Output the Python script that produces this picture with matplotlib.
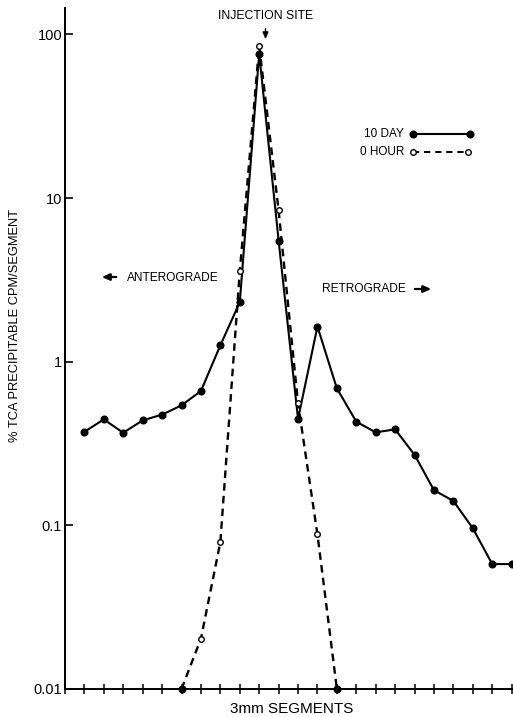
import numpy as np
import matplotlib
matplotlib.use("Agg")
import matplotlib.pyplot as plt
from matplotlib.lines import Line2D

plt.rcParams["font.family"] = ["Liberation Sans", "DejaVu Sans"]

# 3 mm nerve segments (injection site at segment 10)
seg_10day = list(range(1, 24))
pct_10day = [0.373, 0.444, 0.368, 0.438, 0.475, 0.541, 0.662, 1.26, 2.31, 76.0,
             5.5, 0.447, 1.64, 0.687, 0.43, 0.37, 0.386, 0.27, 0.164, 0.141,
             0.096, 0.058, 0.058]

seg_0hour = [6, 7, 8, 9, 10, 11, 12, 13, 14]
pct_0hour = [0.01, 0.0203, 0.079, 3.56, 85.0, 8.4, 0.556, 0.088, 0.01]

ytick_vals = [0.01, 0.1, 1, 10, 100]
ytick_labels = ["0.01", "0.1", "1", "10", "100"]
xtick_vals = list(range(0, 24))

W, H = 513, 717
fig = plt.figure(figsize=(W / 100, H / 100), dpi=100)
ax = fig.add_axes([65 / W, 28 / H, (W - 65) / W, (689 - 8) / H])


def fpos(x, y):
    """Pixel position (from top-left) to figure fraction."""
    return x / W, 1 - y / H


ax.set_yscale("log")
ax.set_ylim(0.01, 145)
ax.set_xlim(0, 23.07)

# 10 day: solid line, filled dots
ax.plot(seg_10day, pct_10day, color="black", lw=1.5, marker="o", ms=4.8,
        mfc="black", mec="black", zorder=3)

# 0 hour: dashed line, open circles
ax.plot(seg_0hour, pct_0hour, color="black", lw=1.7, ls=(0, (3.2, 2.2)),
        marker="o", ms=4.0, mfc="white", mec="black", mew=1.0, zorder=4)
floor = [(s, v) for s, v in zip(seg_0hour, pct_0hour) if v <= 0.01]
ax.plot([s for s, _ in floor], [v for _, v in floor], ls="none", marker="o",
        ms=4.8, mfc="black", mec="black", clip_on=False, zorder=5)

for side in ("top", "right"):
    ax.spines[side].set_visible(False)
for side in ("left", "bottom"):
    ax.spines[side].set_linewidth(1.4)

ax.yaxis.set_major_locator(matplotlib.ticker.FixedLocator(ytick_vals))
ax.yaxis.set_major_formatter(matplotlib.ticker.FixedFormatter(ytick_labels))
ax.yaxis.set_minor_locator(matplotlib.ticker.NullLocator())
ax.tick_params(axis="y", which="major", direction="in", length=5.5, width=1.2,
               pad=2, labelsize=10.5)
ax.set_xticks(xtick_vals)
ax.set_xticklabels([])
ax.tick_params(axis="x", which="major", direction="inout", length=6.5, width=1.1)

fig.text(*fpos(15, 325), "% TCA PRECIPITABLE CPM/SEGMENT", rotation=90,
         ha="center", va="center", fontsize=9.3)
fig.text(*fpos(292, 709), "3mm SEGMENTS", ha="center", va="center",
         fontsize=11)

# annotations
fig.text(*fpos(266, 16), "INJECTION SITE", ha="center", va="center",
         fontsize=8.8)
ax.annotate("", xy=fpos(265.5, 42), xytext=fpos(265.5, 26),
            xycoords="figure fraction", textcoords="figure fraction",
            arrowprops=dict(arrowstyle="-|>,head_length=0.4,head_width=0.17",
                            color="black", lw=1.0))

fig.text(*fpos(127, 278), "ANTEROGRADE", ha="left", va="center", fontsize=8.6)
ax.annotate("", xy=fpos(99, 277), xytext=fpos(119, 277),
            xycoords="figure fraction", textcoords="figure fraction",
            arrowprops=dict(arrowstyle="-|>,head_length=0.45,head_width=0.2",
                            color="black", lw=1.6))
fig.text(*fpos(322, 289), "RETROGRADE", ha="left", va="center", fontsize=8.6)
ax.annotate("", xy=fpos(434, 289), xytext=fpos(412, 289),
            xycoords="figure fraction", textcoords="figure fraction",
            arrowprops=dict(arrowstyle="-|>,head_length=0.45,head_width=0.2",
                            color="black", lw=1.6))

# key
fig.text(*fpos(404, 134), "10 DAY", ha="right", va="center", fontsize=8.5)
fig.text(*fpos(404, 152), "0 HOUR", ha="right", va="center", fontsize=8.5)
x0, y0 = fpos(413, 134)
x1, _ = fpos(470, 134)
fig.add_artist(Line2D([x0, x1], [y0, y0], color="black", lw=1.5, marker="o",
                      ms=4.8, mfc="black", transform=fig.transFigure))
x0, y0 = fpos(413, 152)
x1, _ = fpos(468, 152)
fig.add_artist(Line2D([x0, x1], [y0, y0], color="black", lw=1.4,
                      ls=(0, (3.2, 2.5)), marker="o", ms=4.0, mfc="white",
                      mec="black", mew=1.0, transform=fig.transFigure))

fig.savefig("out.png", dpi=100)
